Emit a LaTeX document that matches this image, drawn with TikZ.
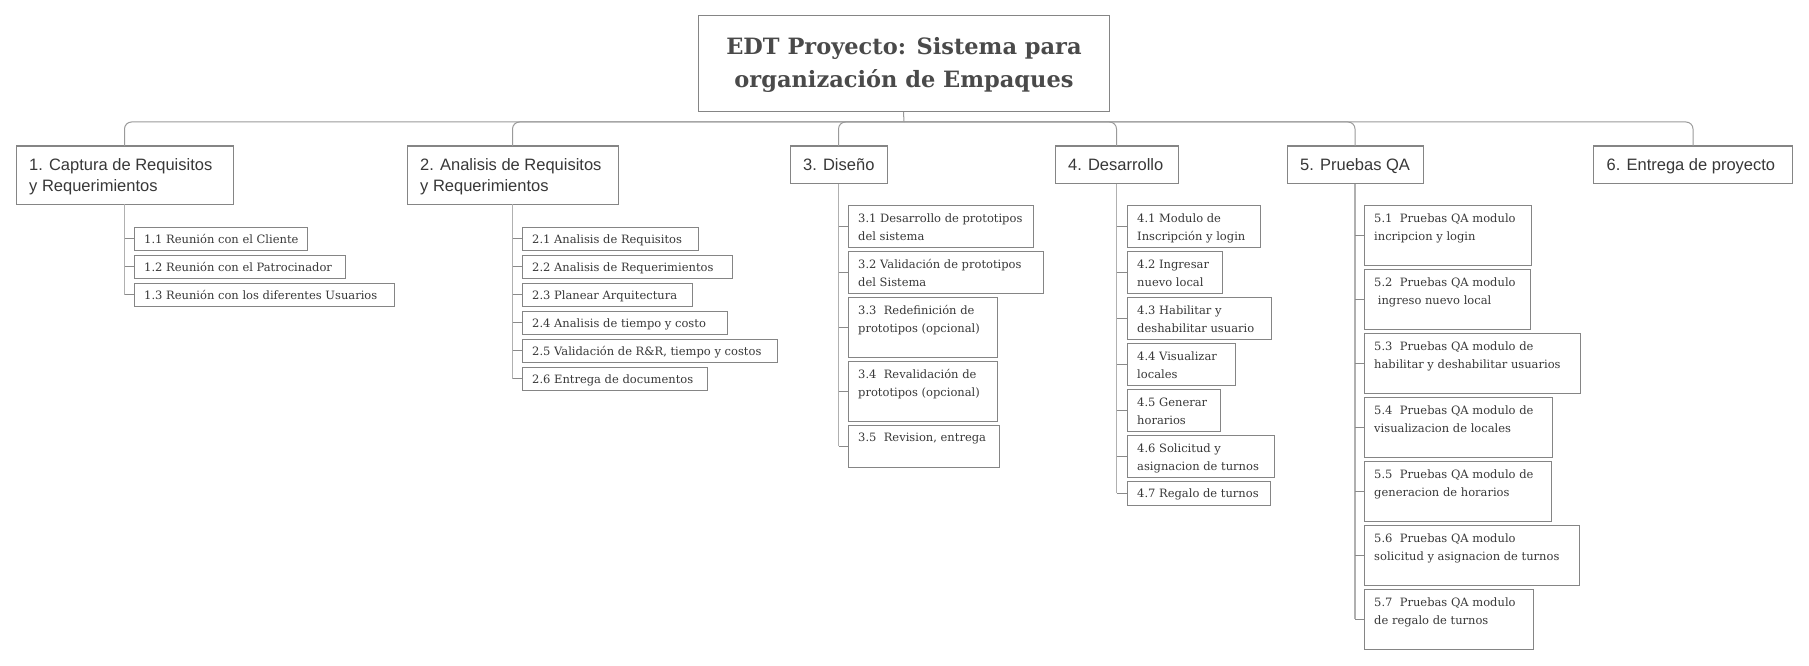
\documentclass[tikz,border=0pt]{standalone}
\usepackage{fontspec}
\setmainfont{DejaVu Serif}
\newfontfamily\lvonefont{Liberation Sans}
\newfontfamily\titlefont{DejaVu Serif}
\definecolor{boxc}{HTML}{858585}
\definecolor{txtc}{HTML}{383838}
\definecolor{ttlc}{HTML}{4A4A4A}
\definecolor{busc}{HTML}{9A9A9A}
\definecolor{stemc}{HTML}{B0B0B0}
\definecolor{tickc}{HTML}{8A8A8A}
\tikzset{
  boxst/.style={draw=boxc, line width=1pt, rectangle, inner sep=0pt, outer sep=0pt, anchor=north west, fill=white},
  ttltxt/.style={inner sep=0pt, align=center, text=ttlc, font=\titlefont\bfseries\fontsize{22.5}{33}\selectfont},
  lonetxt/.style={anchor=base west, inner sep=0pt, align=left, text=txtc, xshift=13pt, yshift=-24pt, font=\lvonefont\fontsize{16.5}{21}\selectfont},
  lonetwo/.style={lonetxt, yshift=-21pt},
  ltwoa/.style={anchor=base west, inner sep=0pt, align=left, text=txtc, xshift=10pt, yshift=-16pt, font=\fontsize{11.5}{18}\selectfont},
  ltwob/.style={anchor=base west, inner sep=0pt, align=left, text=txtc, xshift=10pt, yshift=-35.5pt, font=\fontsize{11.5}{18}\selectfont},
  busline/.style={draw=busc, line width=1pt, rounded corners=7pt},
  stemline/.style={draw=stemc, line width=1.6pt},
  tickline/.style={draw=tickc, line width=1pt},
}
\newcommand\wbs[7]{%
  \node[boxst, minimum width={#4pt-#2pt}, minimum height={#5pt-#3pt}] (#1) at (#2,#3) {};
  \node[#6] (#1t) at (#1.north west) {#7};
}
\begin{document}
\begin{tikzpicture}[x=1pt, y=-1pt]
\useasboundingbox (0,0) rectangle (1809,666);
% root
\node[boxst, minimum width=411pt, minimum height=96pt] (root) at (698,16) {};
\node[ttltxt] (roott) at (904,65) {EDT Proyecto: Sistema para\\organización de Empaques};
\coordinate (bus) at (904,122);
\draw[busline] (root.south) -- (bus);
% level 1
\wbs{n1}{16}{146}{233}{204}{lonetwo}{1. Captura de Requisitos\\y Requerimientos}
\wbs{n2}{407}{146}{618}{204}{lonetwo}{2. Analisis de Requisitos\\y Requerimientos}
\wbs{n3}{790}{146}{887}{183.5}{lonetxt}{3. Diseño}
\wbs{n4}{1055}{146}{1178}{183.5}{lonetxt}{4. Desarrollo}
\wbs{n5}{1287}{146}{1423}{183.5}{lonetxt}{5. Pruebas QA}
\wbs{n6}{1593.5}{146}{1792.5}{183.5}{lonetxt}{6. Entrega de proyecto}
\foreach \n in {n1,n2,n3,n4,n5,n6} {\draw[busline] (bus) -| (\n.north);}
% level 2 -- 1
\wbs{c11}{134}{227}{307}{250}{ltwoa}{1.1 Reunión con el Cliente}
\wbs{c12}{134}{255}{345}{278}{ltwoa}{1.2 Reunión con el Patrocinador}
\wbs{c13}{134}{283}{394}{306}{ltwoa}{1.3 Reunión con los diferentes Usuarios}
% level 2 -- 2
\wbs{c21}{522}{227}{698}{250}{ltwoa}{2.1 Analisis de Requisitos}
\wbs{c22}{522}{255}{732}{278}{ltwoa}{2.2 Analisis de Requerimientos}
\wbs{c23}{522}{283}{692}{306}{ltwoa}{2.3 Planear Arquitectura}
\wbs{c24}{522}{311}{727}{334}{ltwoa}{2.4 Analisis de tiempo y costo}
\wbs{c25}{522}{339}{777}{362}{ltwoa}{2.5 Validación de R\&R, tiempo y costos}
\wbs{c26}{522}{367}{707}{390}{ltwoa}{2.6 Entrega de documentos}
% level 2 -- 3
\wbs{c31}{848}{205}{1033}{247}{ltwob}{3.1 Desarrollo de prototipos\\del sistema}
\wbs{c32}{848}{251}{1043}{293}{ltwob}{3.2 Validación de prototipos\\del Sistema}
\wbs{c33}{848}{297}{997}{357}{ltwob}{3.3~ Redefinición de\\prototipos (opcional)}
\wbs{c34}{848}{361}{997}{421}{ltwob}{3.4~ Revalidación de\\prototipos (opcional)}
\wbs{c35}{848}{425}{999}{467}{ltwoa}{3.5~ Revision, entrega}
% level 2 -- 4
\wbs{c41}{1127}{205}{1260}{247}{ltwob}{4.1 Modulo de\\Inscripción y login}
\wbs{c42}{1127}{251}{1222}{293}{ltwob}{4.2 Ingresar\\nuevo local}
\wbs{c43}{1127}{297}{1271}{339}{ltwob}{4.3 Habilitar y\\deshabilitar usuario}
\wbs{c44}{1127}{343}{1235}{385}{ltwob}{4.4 Visualizar\\locales}
\wbs{c45}{1127}{389}{1220}{431}{ltwob}{4.5 Generar\\horarios}
\wbs{c46}{1127}{435}{1274}{477}{ltwob}{4.6 Solicitud y\\asignacion de turnos}
\wbs{c47}{1127}{481}{1270}{505}{ltwoa}{4.7 Regalo de turnos}
% level 2 -- 5
\wbs{c51}{1364}{205}{1531}{265}{ltwob}{5.1~ Pruebas QA modulo\\incripcion y login}
\wbs{c52}{1364}{269}{1530}{329}{ltwob}{5.2~ Pruebas QA modulo\\\ ingreso nuevo local}
\wbs{c53}{1364}{333}{1580}{393}{ltwob}{5.3~ Pruebas QA modulo de\\habilitar y deshabilitar usuarios}
\wbs{c54}{1364}{397}{1552}{457}{ltwob}{5.4~ Pruebas QA modulo de\\visualizacion de locales}
\wbs{c55}{1364}{461}{1551}{521}{ltwob}{5.5~ Pruebas QA modulo de\\generacion de horarios}
\wbs{c56}{1364}{525}{1579}{585}{ltwob}{5.6~ Pruebas QA modulo\\solicitud y asignacion de turnos}
\wbs{c57}{1364}{589}{1533}{649}{ltwob}{5.7~ Pruebas QA modulo\\de regalo de turnos}
% child connectors
\draw[stemline] (n1.south) -- (n1.south |- c13.west);
\foreach \c in {c11,c12,c13} {\draw[tickline] (n1.south |- \c.west) -- (\c.west);}
\draw[stemline] (n2.south) -- (n2.south |- c26.west);
\foreach \c in {c21,c22,c23,c24,c25,c26} {\draw[tickline] (n2.south |- \c.west) -- (\c.west);}
\draw[stemline] (n3.south) -- (n3.south |- c35.west);
\foreach \c in {c31,c32,c33,c34,c35} {\draw[tickline] (n3.south |- \c.west) -- (\c.west);}
\draw[stemline] (n4.south) -- (n4.south |- c47.west);
\foreach \c in {c41,c42,c43,c44,c45,c46,c47} {\draw[tickline] (n4.south |- \c.west) -- (\c.west);}
\draw[stemline] (n5.south) -- (n5.south |- c57.west);
\foreach \c in {c51,c52,c53,c54,c55,c56,c57} {\draw[tickline] (n5.south |- \c.west) -- (\c.west);}
\end{tikzpicture}
\end{document}
